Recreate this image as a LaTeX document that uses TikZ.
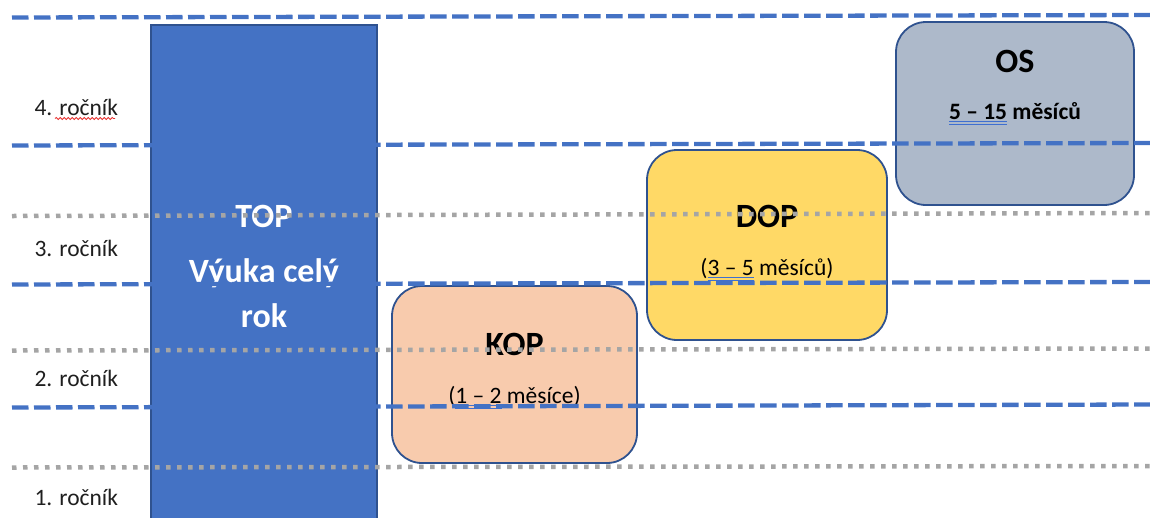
\documentclass[tikz,border=0pt]{standalone}
\usepackage{fontspec}
\setmainfont{Carlito}
\usetikzlibrary{decorations.pathmorphing}

\definecolor{topblue}{HTML}{4472C4}
\definecolor{edgeblue}{HTML}{2F528F}
\definecolor{kopfill}{HTML}{F8CBAD}
\definecolor{dopfill}{HTML}{FFD966}
\definecolor{osfill}{HTML}{ADB9CA}
\definecolor{dotgray}{HTML}{A5A5A5}
\definecolor{spellred}{HTML}{E8312F}
\definecolor{gramblue}{HTML}{3F6FD0}

\newcommand\gramline[1]{\sbox0{#1}\rlap{\color{gramblue}\rule[-3pt]{\wd0}{0.7pt}}\rlap{\color{gramblue}\rule[-5.8pt]{\wd0}{0.7pt}}\usebox0}

\tikzset{
    rowline/.style={topblue, line width=4.3pt, dash pattern=on 16.5pt off 5.5pt},
    halfline/.style={dotgray, line width=4.5pt, dash pattern=on 4.5pt off 6.5pt},
    phase/.style={draw=edgeblue, line width=1.8pt, rounded corners=30pt, inner sep=0pt},
    bigtext/.style={font=\fontsize{34}{40}\selectfont\bfseries, anchor=base},
    smalltext/.style={font=\fontsize{23.5}{28}\selectfont, anchor=base},
    rowlabel/.style={font=\fontsize{23.5}{28}\selectfont, anchor=base west, text=black!88},
}

\begin{document}
\begin{tikzpicture}[x=1pt, y=-1pt]
                \useasboundingbox (0,0) rectangle (1150,517);

                \node [draw=edgeblue, line width=1.5pt, fill=topblue, minimum width=226pt, minimum height=497pt, inner sep=0pt] (top) at (264,273.5) {};
                \node [bigtext, text=white] (toptitle) at (264,227) {TOP};
                \node [bigtext, text=white] (topline) at (264,282) {Výuka celý};
                \node [bigtext, text=white] (toprok) at (264,327) {rok};

                \node [phase, fill=kopfill, minimum width=245pt, minimum height=177pt] (kop) at (514.5,374.5) {};
                \node [phase, fill=dopfill, minimum width=240pt, minimum height=190pt] (dop) at (767,245) {};
                \node [phase, fill=osfill, minimum width=238pt, minimum height=183pt] (os) at (1015,113.5) {};

                \node [bigtext] (koptitle) at (514.5,355) {KOP};
                \node [smalltext] (koptime) at (514.5,403) {(\gramline{1 – 2} měsíce)};
                \node [bigtext] (doptitle) at (767,227) {DOP};
                \node [smalltext] (doptime) at (767,275) {(\gramline{3 – 5} měsíců)};
                \node [bigtext] (ostitle) at (1015,72) {OS};
                \node [smalltext, font=\fontsize{23.5}{28}\selectfont\bfseries] (ostime) at (1015,119) {\gramline{5 – 15} měsíců};

                \node [rowlabel] (row4) at (31,115) {4. ročník};
                \node [rowlabel] (row3) at (31,256) {3. ročník};
                \node [rowlabel] (row2) at (31,386) {2. ročník};
                \node [rowlabel] (row1) at (31,505) {1. ročník};

                \draw [rowline] (12,17.5) -- (1150,15);
                \draw [rowline] (12,145.5) -- (1150,143);
                \draw [rowline] (12,284.5) -- (1150,282);
                \draw [rowline] (12,407.5) -- (1150,404.5);

                \draw [halfline] (12,216) -- (1150,213);
                \draw [halfline] (12,350.5) -- (1150,348.5);
                \draw [halfline] (12,467.5) -- (1150,466);

                \draw [spellred, line width=0.8pt, decorate, decoration={snake, amplitude=1pt, segment length=4pt}] (55,118.5) -- (115,118.5);
            \end{tikzpicture}
\end{document}
